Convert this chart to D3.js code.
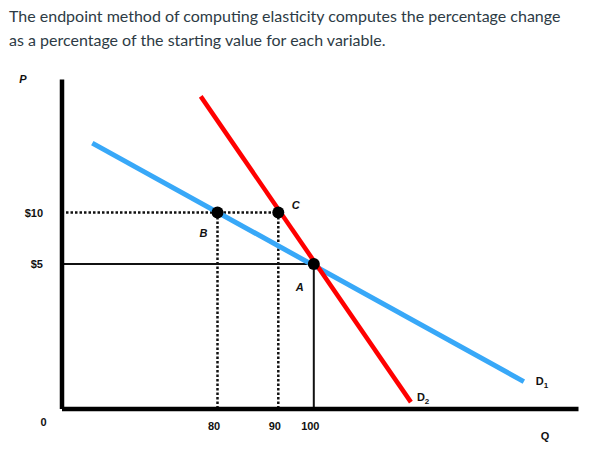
<!DOCTYPE html>
<meta charset="utf-8">
<script src="https://d3js.org/d3.v7.min.js"></script>
<style>
  body { margin: 0; background: #fff; }
  .title { font-family: Lato, sans-serif; font-size: 16px; fill: #2d3b45; }
  .lbl { font-family: "Liberation Sans", Arial, sans-serif; font-weight: bold; font-size: 11px; fill: #111; }
</style>
<div id="chart"></div>
<script>

// data
var titleLines = ["The endpoint method of computing elasticity computes the percentage change",
                  "as a percentage of the starting value for each variable."];
var qTicks = [80, 90, 100];
var pTicks = [5, 10];
// demand curves (endpoints, Q and P)
var d1 = [{q: 15.8, p: 15.2}, {q: 131.8, p: 0.93}];
var d2 = [{q: 71.4, p: 18.7}, {q: 114.7, p: 0.22}];
var points = [
  {name: "A", q: 100, p: 5},
  {name: "B", q: 80, p: 10},
  {name: "C", q: 90, p: 10}
];

var W = 595, H = 461;

var svg = d3.select("#chart")
  .append("svg")
    .attr("width", W)
    .attr("height", H);

// title
svg.selectAll(".title")
  .data(titleLines)
  .enter()
  .append("text")
    .attr("class", "title")
    .attr("x", 9)
    .attr("y", function(d, i) { return 22 + i * 24; })
    .text(function(d) { return d; });

// diagram is not drawn to scale, so the scales are piecewise
var x = d3.scaleLinear()
  .domain([0, 80, 90, 100, 140])
  .range([61.5, 217.5, 278.3, 313.8, 578]);

var y = d3.scaleLinear()
  .domain([0, 5, 10, 20])
  .range([408.5, 264, 212.5, 79]);

// guide lines: dotted for B and C, solid for A
var dotted = "2.5,2";
svg.append("line")
  .attr("x1", x(0)).attr("y1", y(10)).attr("x2", x(90)).attr("y2", y(10))
  .attr("stroke", "#111").attr("stroke-width", 2.5).attr("stroke-dasharray", dotted);
[80, 90].forEach(function(q) {
  svg.append("line")
    .attr("x1", x(q)).attr("y1", y(10)).attr("x2", x(q)).attr("y2", y(0))
    .attr("stroke", "#111").attr("stroke-width", 2.5).attr("stroke-dasharray", dotted);
});
svg.append("line")
  .attr("x1", x(0)).attr("y1", y(5)).attr("x2", x(100)).attr("y2", y(5))
  .attr("stroke", "#111").attr("stroke-width", 2);
svg.append("line")
  .attr("x1", x(100)).attr("y1", y(5)).attr("x2", x(100)).attr("y2", y(0))
  .attr("stroke", "#111").attr("stroke-width", 2);

// axes
var xAxis = svg.append("g")
  .attr("transform", "translate(0," + y(0) + ")")
  .call(d3.axisBottom(x).tickValues(qTicks).tickSize(0).tickSizeOuter(0).tickPadding(14));
xAxis.select(".domain").attr("stroke", "#000").attr("stroke-width", 4.5);
xAxis.selectAll("text").attr("class", "lbl").attr("dx", -4).attr("font-size", null).attr("font-family", null).attr("fill", null);

var yAxis = svg.append("g")
  .attr("transform", "translate(" + x(0) + ",0)")
  .call(d3.axisLeft(y).tickValues(pTicks).tickFormat(function(d) { return "$" + d; })
    .tickSize(0).tickSizeOuter(0).tickPadding(18.5));
yAxis.select(".domain").attr("stroke", "#000").attr("stroke-width", 4.5);
yAxis.selectAll("text").attr("class", "lbl").attr("font-size", null).attr("font-family", null).attr("fill", null);

svg.append("text").attr("class", "lbl").attr("x", 43.5).attr("y", 426).attr("text-anchor", "middle").text("0");
svg.append("text").attr("class", "lbl").attr("x", 23).attr("y", 83).attr("text-anchor", "middle")
  .style("font-style", "italic").text("P");
svg.append("text").attr("class", "lbl").attr("x", x.range()[4] - 33).attr("y", 440).attr("text-anchor", "middle").text("Q");

// demand curves
var line = d3.line()
  .x(function(d) { return x(d.q); })
  .y(function(d) { return y(d.p); });

svg.append("path").datum(d1)
  .attr("d", line).attr("fill", "none")
  .attr("stroke", "#38a8f8").attr("stroke-width", 5);

svg.append("path").datum(d2)
  .attr("d", line).attr("fill", "none")
  .attr("stroke", "#ff0000").attr("stroke-width", 4.5);

// curve labels
function curveLabel(end, sub, dx, dy) {
  var t = svg.append("text").attr("class", "lbl")
    .attr("x", x(end.q) + dx).attr("y", y(end.p) + dy);
  t.append("tspan").text("D");
  t.append("tspan").attr("dy", 3).attr("font-size", "8px").text(sub);
}
curveLabel(d1[1], "1", 12, 3.5);
curveLabel(d2[1], "2", 6, -1);

// points
svg.selectAll(".pt")
  .data(points)
  .enter()
  .append("circle")
    .attr("class", "pt")
    .attr("cx", function(d) { return x(d.q); })
    .attr("cy", function(d) { return y(d.p); })
    .attr("r", 6)
    .attr("fill", "#000");

var labelOffset = {A: [-14, 23], B: [-14, 20.5], C: [17.4, -8]};
svg.selectAll(".ptlbl")
  .data(points)
  .enter()
  .append("text")
    .attr("class", "lbl")
    .attr("text-anchor", "middle")
    .style("font-style", "italic")
    .attr("x", function(d) { return x(d.q) + labelOffset[d.name][0]; })
    .attr("y", function(d) { return y(d.p) + labelOffset[d.name][1] + 4; })
    .text(function(d) { return d.name; });

</script>
